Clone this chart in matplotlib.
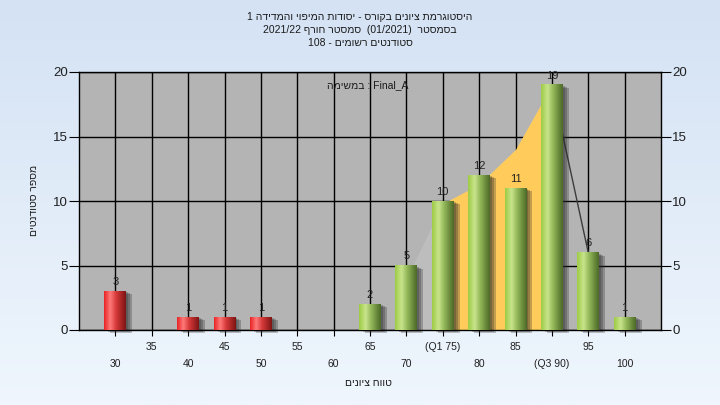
import re
import numpy as np
import matplotlib
matplotlib.use('Agg')
import matplotlib.pyplot as plt
from matplotlib import transforms
from matplotlib.colors import LinearSegmentedColormap
from matplotlib.patches import Rectangle

plt.rcParams['font.family'] = ['Liberation Sans', 'DejaVu Sans']

# histogram data
bins = [30, 35, 40, 45, 50, 55, 60, 65, 70, 75, 80, 85, 90, 95, 100]
counts = [3, 0, 1, 1, 1, 0, 0, 2, 5, 10, 12, 11, 19, 6, 1]
tick_labels = ['30', '35', '40', '45', '50', '55', '60', '65', '70',
               '(Q1 75)', '80', '85', '(Q3 90)', '95', '100']
pass_grade = 55

# overlay curve behind the bars (orange part = between Q1 and Q3)
curve_bins = [70, 75, 80, 85, 90, 95]
curve_vals = [4, 9.8, 11.3, 14, 19, 6]

title_lines = ["היסטוגרמת ציונים בקורס - יסודות המיפוי והמדידה 1",
               "בסמסטר  (01/2021)  סמסטר חורף 2021/22",
               "סטודנטים רשומים - 108"]
legend_text = "Final_A : במשימה"
xlabel = "טווח ציונים"
ylabel = "מספר סטודנטים"


def visual(s):
    # crude rtl -> visual order, matplotlib has no bidi
    s = s[::-1].translate(str.maketrans('()', ')('))
    return re.sub(r'[A-Za-z0-9][A-Za-z0-9_/.]*', lambda m: m.group(0)[::-1], s)


fig = plt.figure(figsize=(7.2, 4.05), dpi=100)

# background gradient
bg = fig.add_axes([0, 0, 1, 1], zorder=-10)
bg.axis('off')
bg.imshow(np.linspace(0, 1, 256)[:, None], aspect='auto', extent=[0, 1, 0, 1],
          cmap=LinearSegmentedColormap.from_list('bg', ['#d4e2f4', '#eff6fd']))

ax = fig.add_axes([79 / 720, 75 / 405, 582 / 720, 258 / 405])
ax.set_facecolor('#b4b4b4')
xs = np.arange(len(bins))

green = LinearSegmentedColormap.from_list('g', [(0, '#9dcb45'), (0.3, '#c9e48c'),
                                                (0.55, '#94b95a'), (1, '#4d6a27')])
red = LinearSegmentedColormap.from_list('r', [(0, '#e82424'), (0.28, '#ff7a7a'),
                                              (0.55, '#d83a3a'), (1, '#7e1414')])
grad = np.linspace(0, 1, 64)[None, :]
w = 0.6

# curve area
cx = [bins.index(b) for b in curve_bins]
ax.fill_between(cx[0:2], curve_vals[0:2], color='#bdbdbd', zorder=1, lw=0)
ax.fill_between(cx[1:5], curve_vals[1:5], color='#ffcc5c', zorder=1.1, lw=0)
ax.plot(cx[4:6], curve_vals[4:6], color='#3c3c3c', lw=1, zorder=1.2)

for i, v in zip(xs, counts):
    if v == 0:
        continue
    for k, (dx, dy) in enumerate([(2, -1), (4, -2), (6, -3)]):
        tr = transforms.offset_copy(ax.transData, fig=fig, x=dx, y=dy, units='dots')
        ax.add_patch(Rectangle((i - w / 2, 0), w, v, transform=tr, color='#2a2a2a',
                               alpha=0.28, lw=0, zorder=2, clip_on=False))
    cmap = red if bins[i] < pass_grade else green
    ax.imshow(grad, extent=(i - w / 2, i + w / 2, 0, v), aspect='auto', cmap=cmap,
              interpolation='bilinear', zorder=3)
    ax.annotate(str(v), (i, v), xytext=(0, 3), textcoords='offset points',
                ha='center', va='bottom', fontsize=8, color='#222222', zorder=4,
                annotation_clip=False)

ax.set_xlim(-1, len(bins))
ax.set_ylim(0, 20)
ax.set_yticks([0, 5, 10, 15, 20])
ax.set_xticks(xs)
ax.tick_params(axis='x', length=4, color='black', labelbottom=False)
ax.tick_params(axis='y', length=7, pad=1, labelsize=9.5, labelcolor='#202020',
               left=True, right=True, labelleft=True, labelright=True)
ax.grid(True, color='black', lw=1)
ax.set_axisbelow(True)
for sp in ax.spines.values():
    sp.set_color('black')
    sp.set_linewidth(1)

# two-row tick labels
btr = transforms.blended_transform_factory(ax.transData, ax.transAxes)
for i, lab in enumerate(tick_labels):
    y = -17 / 258 if i % 2 else -34 / 258
    ax.text(i, y, lab, transform=btr, ha='center', va='center', fontsize=7.5,
            color='#202020')

for k, line in enumerate(title_lines):
    fig.text(0.5, 1 - (17 + 13 * k) / 405, visual(line), ha='center', va='center',
             fontsize=7.5, color='#1a1a1a')
fig.text(368 / 720, 1 - 85 / 405, visual(legend_text), ha='center', va='center',
         fontsize=7.5, color='#1a1a1a')
fig.text(368 / 720, 1 - 383 / 405, visual(xlabel), ha='center', va='center',
         fontsize=7.5, color='#1a1a1a')
fig.text(34 / 720, 1 - 200 / 405, visual(ylabel), ha='center', va='center',
         fontsize=7.5, rotation=90, color='#1a1a1a')

fig.savefig('out.png', dpi=100)
